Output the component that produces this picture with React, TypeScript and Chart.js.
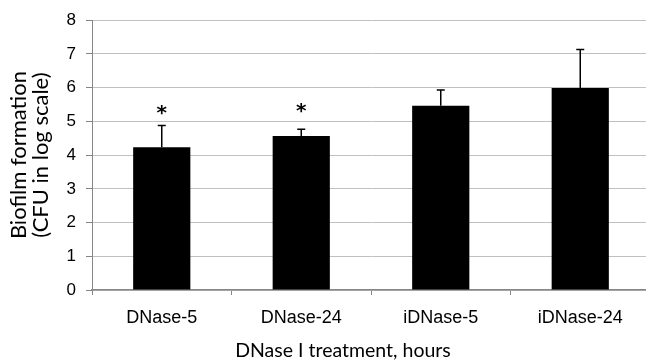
import React, { useEffect, useRef } from "react";
import { Chart, registerables } from "chart.js";

Chart.register(...registerables);

const categories = ["DNase-5", "DNase-24", "iDNase-5", "iDNase-24"];
const means = [4.23, 4.57, 5.46, 5.99];
const errors = [0.65, 0.2, 0.47, 1.14];
const significance = ["*", "*", "", ""];
const starLevels = [5.31, 5.37, 0, 0];
const yTitle = ["Biofilm formation", "(CFU in log scale)"];
const xTitle = "DNase I treatment, hours";

const annotations = {
  id: "annotations",
  afterDatasetsDraw(chart: any) {
    const ctx = chart.ctx;
    const meta = chart.getDatasetMeta(0);
    const y = chart.scales.y;
    ctx.save();
    ctx.strokeStyle = "#000";
    ctx.lineWidth = 1.5;
    meta.data.forEach((bar: any, i: number) => {
      const x = bar.x;
      const top = y.getPixelForValue(means[i]);
      const eTop = y.getPixelForValue(means[i] + errors[i]);
      ctx.beginPath();
      ctx.moveTo(x, top);
      ctx.lineTo(x, eTop);
      ctx.moveTo(x - 4, eTop);
      ctx.lineTo(x + 4, eTop);
      ctx.stroke();
      if (significance[i]) {
        ctx.fillStyle = "#000";
        ctx.font = 'bold 20px "DejaVu Sans"';
        ctx.textAlign = "center";
        ctx.textBaseline = "middle";
        ctx.fillText(significance[i], x, y.getPixelForValue(starLevels[i]) + 3);
      }
    });
    ctx.fillStyle = "#000";
    ctx.font = "19.5px Lato";
    ctx.textAlign = "center";
    ctx.textBaseline = "middle";
    ctx.fillText(xTitle, 343, 351);
    ctx.restore();
  },
};

export default function App() {
  const ref = useRef<HTMLCanvasElement>(null);
  useEffect(() => {
    const chart = new Chart(ref.current!, {
      type: "bar",
      data: {
        labels: categories,
        datasets: [
          {
            data: means,
            backgroundColor: "#000",
            borderWidth: 0,
            categoryPercentage: 1,
            barPercentage: 0.41,
          },
        ],
      },
      plugins: [annotations],
      options: {
        animation: false,
        responsive: false,
        devicePixelRatio: 1,
        layout: { padding: { top: 17, right: 2, bottom: 0, left: 0 } },
        plugins: { legend: { display: false }, tooltip: { enabled: false } },
        scales: {
          x: {
            offset: true,
            grid: {
              offset: true,
              drawOnChartArea: false,
              drawTicks: true,
              tickLength: 5,
              tickColor: "#868686",
            },
            border: { color: "#868686", width: 1.5 },
            ticks: {
              color: "#000",
              font: { family: '"Liberation Sans"', size: 18 },
              padding: 12,
            },
            afterFit: (s: any) => {
              s.height = 70;
            },
          },
          y: {
            min: 0,
            max: 8,
            ticks: {
              stepSize: 1,
              color: "#000",
              font: { family: '"Liberation Sans"', size: 17 },
              padding: 10,
            },
            grid: { color: "#c0c0c0", tickLength: 6, tickColor: "#868686" },
            border: { color: "#868686", width: 1 },
            title: {
              display: true,
              text: yTitle,
              color: "#000",
              font: { family: "Lato", size: 22, lineHeight: 1.0 },
              padding: { top: 8, bottom: 0 },
            },
            afterFit: (s: any) => {
              s.width = 92;
            },
          },
        },
      },
    });
    return () => chart.destroy();
  }, []);
  return (
    <div style={{ position: "fixed", left: 0, top: 0, width: 652, height: 360, overflow: "hidden" }}>
      <canvas ref={ref} width={652} height={360} style={{ width: 652, height: 360 }} />
    </div>
  );
}
